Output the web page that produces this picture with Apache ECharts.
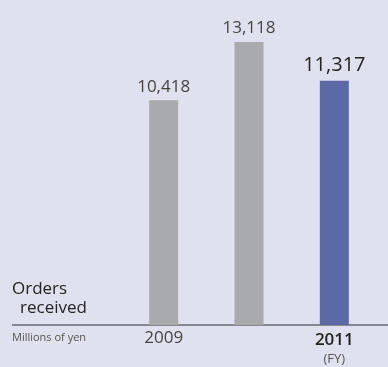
<!DOCTYPE html>
<html lang="en">
<head>
    <meta charset="UTF-8" />
    <title>Orders received</title>
    <script src="https://cdn.jsdelivr.net/npm/echarts@6/dist/echarts.min.js"></script>
    <style>
        html, body { margin: 0; padding: 0; background: #e0e1ef; }
    </style>
</head>
<body>
    <div id="main" style="width: 388px; height: 367px"></div>
    <script>
        // fiscal years and orders received (millions of yen)
        var years = ["2009", "2010", "2011"];
        var orders = [10418, 13118, 11317];
        var barColors = ["#a9aaad", "#a9aaad", "#5c69a7"];

        var mCharts = echarts.init(document.getElementById("main"));

        var font = "'Open Sans', 'Noto Sans', sans-serif";

        var data = orders.map(function (v, i) {
            var item = { value: v, itemStyle: { color: barColors[i] } };
            if (i === orders.length - 1) {
                item.label = { fontSize: 20, color: "#222", fontWeight: 500 };
            }
            return item;
        });

        var option = {
            backgroundColor: "#e0e1ef",
            animation: false,
            grid: { left: 121, right: 11, top: 0, bottom: 42 },
            xAxis: {
                type: "category",
                data: years,
                axisLine: { show: false },
                axisTick: { show: false },
                axisLabel: {
                    margin: 5,
                    fontFamily: font,
                    fontSize: 17,
                    color: "#444",
                    formatter: function (v, i) {
                        if (i === years.length - 1) return "{b|" + v + "}\n{s|(FY)}";
                        return v;
                    },
                    rich: {
                        b: { fontFamily: font, fontSize: 17, fontWeight: 600, color: "#222", lineHeight: 21 },
                        s: { fontFamily: font, fontSize: 13, color: "#555", lineHeight: 16 }
                    }
                }
            },
            yAxis: {
                type: "value",
                min: 0,
                max: 15060,
                show: false,
                splitLine: { show: false }
            },
            series: [
                {
                    type: "bar",
                    data: data,
                    barWidth: 29,
                    label: {
                        show: true,
                        position: "top",
                        distance: 5,
                        fontFamily: font,
                        fontSize: 17,
                        color: "#444",
                        formatter: function (p) {
                            return p.value.toLocaleString("en-US");
                        }
                    }
                }
            ],
            graphic: [
                {
                    type: "line",
                    shape: { x1: 12, y1: 325, x2: 388, y2: 325 },
                    style: { stroke: "#6b6b70", lineWidth: 1.5 }
                },
                {
                    type: "text",
                    left: 12,
                    top: 281,
                    style: { text: "Orders", font: "17px " + font, fill: "#222" }
                },
                {
                    type: "text",
                    left: 20,
                    top: 300,
                    style: { text: "received", font: "17px " + font, fill: "#222" }
                },
                {
                    type: "text",
                    left: 12,
                    top: 332,
                    style: { text: "Millions of yen", font: "11px " + font, fill: "#555" }
                }
            ]
        };

        mCharts.setOption(option);
    </script>
</body>
</html>
